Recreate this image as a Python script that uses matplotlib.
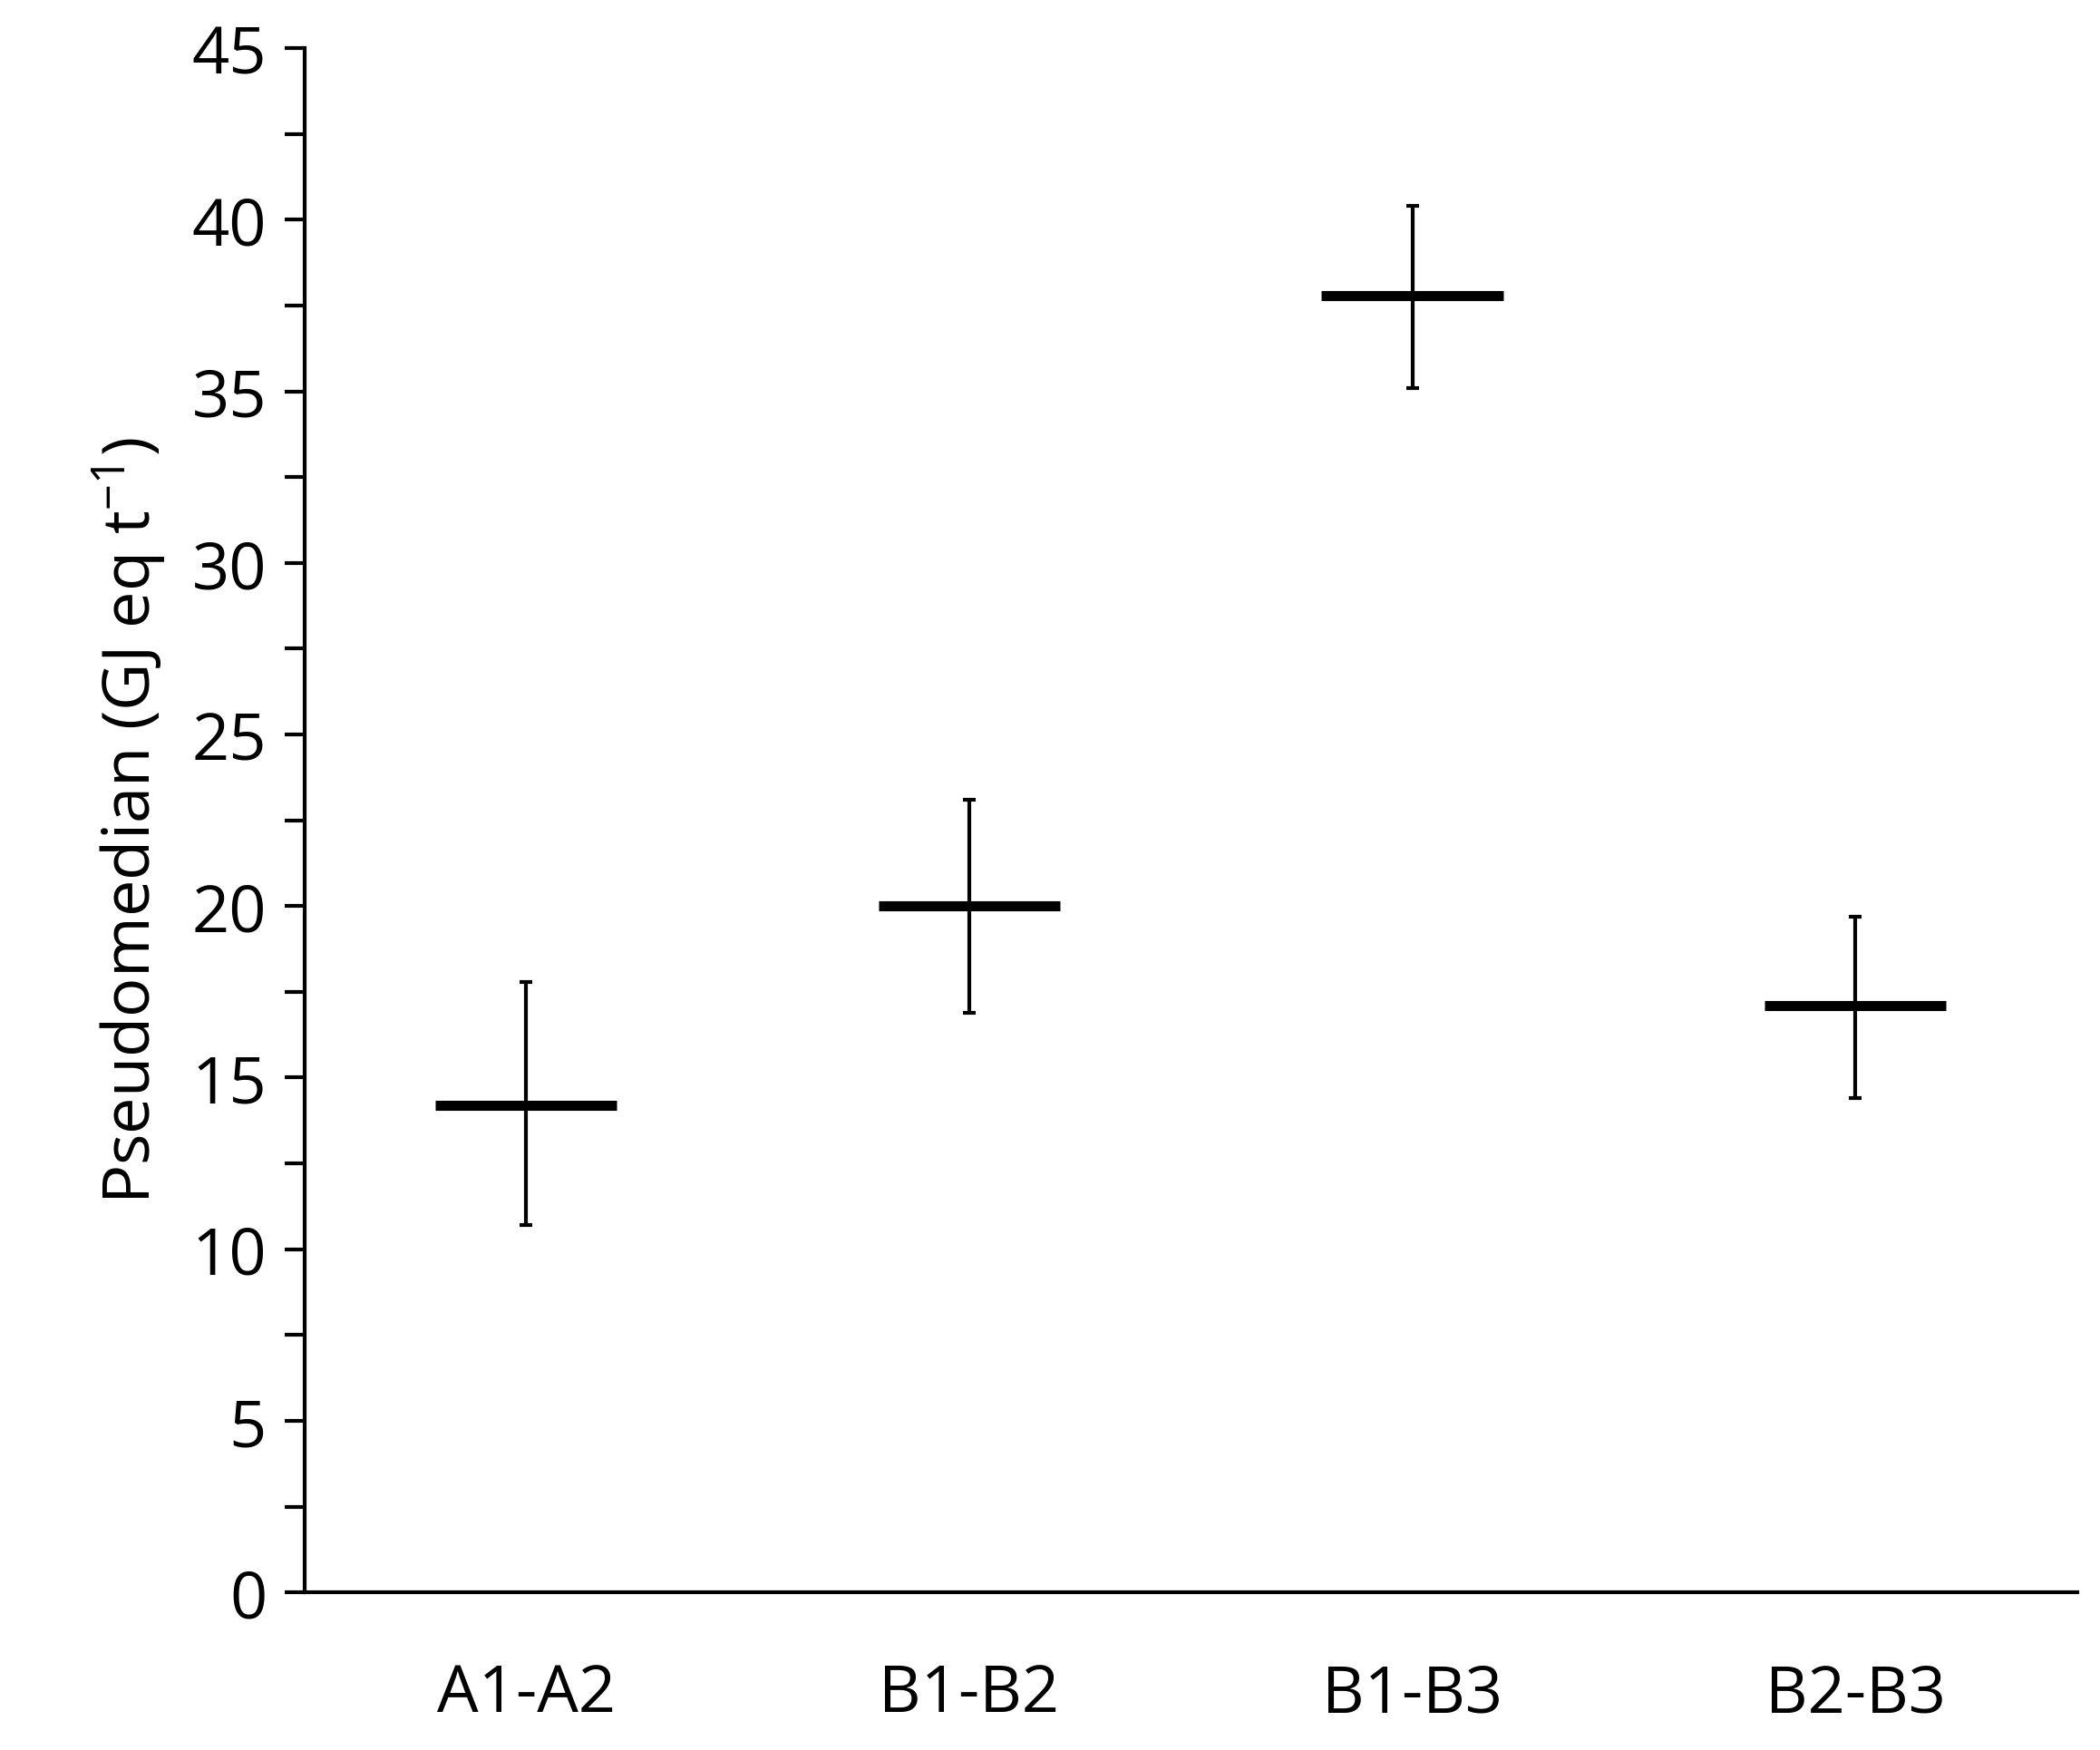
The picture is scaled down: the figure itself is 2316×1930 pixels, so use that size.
import numpy as np
import matplotlib.pyplot as plt
from matplotlib.ticker import MultipleLocator

plt.rcParams['font.family'] = ['Open Sans', 'DejaVu Sans']

categories = ['A1-A2', 'B1-B2', 'B1-B3', 'B2-B3']
pseudomedian = [14.2, 20.0, 37.8, 17.1]
upper = [17.8, 23.1, 40.4, 19.7]
lower = [10.7, 16.9, 35.1, 14.4]

fig = plt.figure(figsize=(23.16, 19.31), dpi=100)
ax = fig.add_axes([0.145, 0.090, 0.844, 0.882])

x = np.arange(len(categories))
med = np.array(pseudomedian)
yerr = [med - np.array(lower), np.array(upper) - med]
ax.errorbar(x, med, yerr=yerr, fmt='none', ecolor='black', elinewidth=3,
            capsize=5, capthick=3)
ax.hlines(med, x - 0.205, x + 0.205, colors='black', linewidth=8)

ax.set_xlim(-0.5, 3.5)
ax.set_ylim(0, 45)
ax.set_xticks(x)
ax.set_xticklabels(categories)
ax.yaxis.set_major_locator(MultipleLocator(5))
ax.yaxis.set_minor_locator(MultipleLocator(2.5))
ax.tick_params(axis='y', which='both', direction='out', length=16, width=3, labelsize=52, pad=14)
ax.tick_params(axis='x', length=0, labelsize=52, pad=55)
for s in ['top', 'right']:
    ax.spines[s].set_visible(False)
for s in ['left', 'bottom']:
    ax.spines[s].set_linewidth(3)
ax.set_ylabel('Pseudomedian (GJ eq t$^{\\mathregular{-1}}$)', fontsize=52, labelpad=18)

fig.savefig('out.png')
